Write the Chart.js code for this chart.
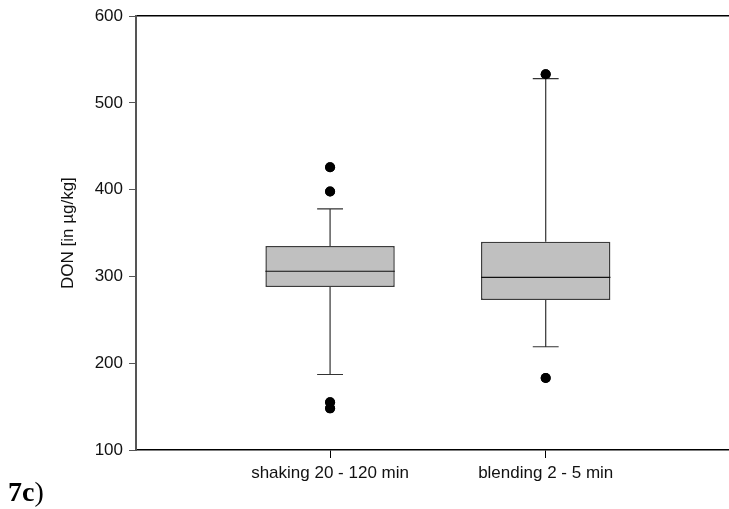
<!DOCTYPE html>
<html>
<head>
<meta charset="utf-8">
<script src="https://cdn.jsdelivr.net/npm/chart.js@4/dist/chart.umd.min.js"></script>
<style>
  html, body { margin: 0; padding: 0; background: #fff; }
  #wrap { position: relative; width: 729px; height: 509px; overflow: hidden; }
  #panel { position: absolute; left: 8px; top: 478px; font: 28px/28px "Liberation Serif", serif; color: #000; }
</style>
</head>
<body>
<div id="wrap">
  <canvas id="boxChart" width="729" height="509" style="width:729px;height:509px"></canvas>
  <div id="panel"><b>7c</b>)</div>
</div>
<script>
const categories = ["shaking 20 - 120 min", "blending 2 - 5 min"];
const positions = [1, 2];
const lowerWhisker = [187, 219];
const q1 = [288, 273];
const median = [306, 299];
const q3 = [335, 340];
const upperWhisker = [378, 528];
const shakingOutliers = [426, 398, 155, 148];
const blendingOutliers = [533, 183];
const yTicks = [100, 200, 300, 400, 500, 600];

const font = { family: "Liberation Sans, Arial, sans-serif", size: 17 };

let outlierPoints = [];
shakingOutliers.forEach((v) => outlierPoints.push({ x: positions[0], y: v }));
blendingOutliers.forEach((v) => outlierPoints.push({ x: positions[1], y: v }));

// whiskers, caps and medians drawn on top of the floating bars
const boxParts = {
  id: "boxParts",
  afterDatasetsDraw(chart) {
    const xs = chart.scales.x;
    const ys = chart.scales.y;
    const ctx = chart.ctx;
    const bars = chart.getDatasetMeta(0).data;
    ctx.save();
    positions.forEach((pos, i) => {
      const cx = xs.getPixelForValue(pos);
      const half = bars[i].width / 2;
      const cap = half * 0.2;

      ctx.strokeStyle = "#333";
      ctx.lineWidth = 1.2;
      ctx.beginPath();
      ctx.moveTo(cx, ys.getPixelForValue(q3[i]));
      ctx.lineTo(cx, ys.getPixelForValue(upperWhisker[i]));
      ctx.moveTo(cx, ys.getPixelForValue(q1[i]));
      ctx.lineTo(cx, ys.getPixelForValue(lowerWhisker[i]));
      ctx.moveTo(cx - cap, ys.getPixelForValue(upperWhisker[i]));
      ctx.lineTo(cx + cap, ys.getPixelForValue(upperWhisker[i]));
      ctx.moveTo(cx - cap, ys.getPixelForValue(lowerWhisker[i]));
      ctx.lineTo(cx + cap, ys.getPixelForValue(lowerWhisker[i]));
      ctx.stroke();

      ctx.strokeStyle = "#111";
      ctx.lineWidth = 1.2;
      ctx.beginPath();
      ctx.moveTo(cx - half, ys.getPixelForValue(median[i]));
      ctx.lineTo(cx + half, ys.getPixelForValue(median[i]));
      ctx.stroke();
    });
    // redraw outliers so they sit over the caps
    chart.getDatasetMeta(1).data.forEach((pt) => pt.draw(ctx));
    ctx.restore();
  },
};

let ctx = document.getElementById("boxChart").getContext("2d");

new Chart(ctx, {
  type: "bar",
  data: {
    datasets: [
      {
        data: positions.map((p, i) => ({ x: p, y: [q1[i], q3[i]] })),
        backgroundColor: "#c0c0c0",
        borderColor: "#3c3c3c",
        borderWidth: 1.5,
        borderSkipped: false,
        barPercentage: 0.6,
        categoryPercentage: 1,
      },
      {
        type: "scatter",
        data: outlierPoints,
        backgroundColor: "#000",
        borderColor: "#000",
        pointRadius: 5,
        borderWidth: 0,
      },
    ],
  },
  plugins: [boxParts],
  options: {
    responsive: false,
    animation: false,
    layout: { autoPadding: false, padding: { top: 16, right: 0, bottom: 0, left: 0 } },
    plugins: {
      legend: { display: false },
      tooltip: { enabled: false },
    },
    scales: {
      x: {
        type: "linear",
        min: 0.1,
        max: 2.85,
        offset: false,
        afterBuildTicks: (scale) => {
          scale.ticks = positions.map((v) => ({ value: v }));
        },
        afterFit: (scale) => {
          scale.height = 59;
        },
        ticks: {
          autoSkip: false,
          maxRotation: 0,
          padding: 5,
          color: "#111",
          font: font,
          callback: (value) => categories[positions.indexOf(value)],
        },
        grid: { offset: false, drawOnChartArea: false, tickLength: 8, color: "#000", lineWidth: 1 },
        border: { color: "#000", width: 1.5 },
      },
      xTop: {
        type: "linear",
        position: "top",
        ticks: { display: false },
        grid: { display: false },
        border: { color: "#000", width: 1.5 },
        afterFit: (scale) => {
          scale.height = 0;
        },
      },
      y: {
        min: 100,
        max: 600,
        afterBuildTicks: (scale) => {
          scale.ticks = yTicks.map((v) => ({ value: v }));
        },
        afterFit: (scale) => {
          scale.width = 136;
        },
        ticks: { padding: 6, color: "#111", font: font },
        grid: { drawOnChartArea: false, tickLength: 7, color: "#555", lineWidth: 1 },
        border: { color: "#555", width: 2 },
        title: {
          display: true,
          text: "DON [in µg/kg]",
          color: "#111",
          font: font,
          padding: { top: 58, bottom: 0 },
        },
      },
    },
  },
});
</script>
</body>
</html>
